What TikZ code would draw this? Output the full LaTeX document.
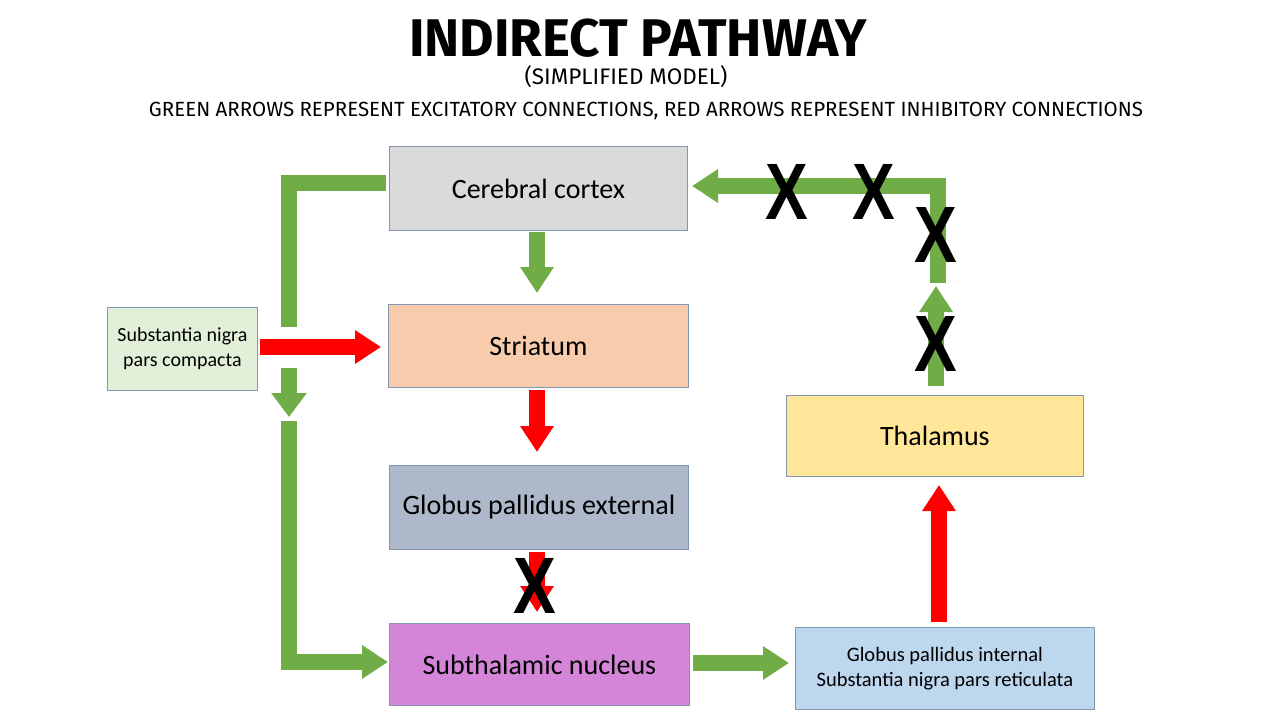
\documentclass[tikz,border=0pt]{standalone}
\usepackage{fontspec}
\setmainfont{Carlito}
\newfontfamily\titlef{Fira Sans}
\newfontfamily\xf{Liberation Sans}
\usetikzlibrary{arrows.meta}
\definecolor{grn}{HTML}{70AD47}
\definecolor{rd}{HTML}{FF0000}
\definecolor{bord}{HTML}{8497B0}
\tikzset{
 box/.style={draw=bord, line width=0.8pt, anchor=north west, inner sep=0pt, align=center, font=\fontsize{28}{32}\selectfont},
 garr/.style={draw=grn, line width=16pt, -{Triangle[width=32pt,length=26pt]}},
 rarr/.style={draw=rd, line width=16pt, -{Triangle[width=32pt,length=26pt]}},
 gline/.style={draw=grn, line width=16pt},
 xmark/.style={font=\xf\bfseries\fontsize{80}{80}\selectfont, xscale=0.8, inner sep=0pt}
}
\begin{document}
\begin{tikzpicture}[x=1pt,y=-1pt]
\useasboundingbox[fill=white] (0,0) rectangle (1280,720);
\node[font=\titlef\bfseries\fontsize{53}{53}\selectfont] (t) at (638,38) {INDIRECT PATHWAY};
\node[font=\titlef\fontsize{22.5}{22}\selectfont] (st) at (626,77) {(SIMPLIFIED MODEL)};
\node[font=\titlef\fontsize{20.5}{20}\selectfont] (lg) at (646,111) {GREEN ARROWS REPRESENT EXCITATORY CONNECTIONS, RED ARROWS REPRESENT INHIBITORY CONNECTIONS};

\node[box, fill={rgb,255:red,218;green,218;blue,218}, minimum width=298pt, minimum height=84pt] (cc) at (389,146) {Cerebral cortex};
\node[box, fill={rgb,255:red,248;green,203;blue,173}, minimum width=300pt, minimum height=83pt] (str) at (388,304) {Striatum};
\node[box, fill={rgb,255:red,173;green,185;blue,202}, minimum width=299pt, minimum height=84pt] (gpe) at (389,465) {Globus pallidus external};
\node[box, fill={rgb,255:red,212;green,133;blue,216}, minimum width=300pt, minimum height=82pt] (stn) at (389,623) {Subthalamic nucleus};
\node[box, fill={rgb,255:red,226;green,240;blue,217}, minimum width=150pt, minimum height=83pt, font=\fontsize{20}{25}\selectfont] (snc) at (107,307) {Substantia nigra\\pars compacta};
\node[box, fill={rgb,255:red,255;green,230;blue,153}, minimum width=297pt, minimum height=81pt] (th) at (786,395) {Thalamus};
\node[box, fill={rgb,255:red,189;green,215;blue,238}, minimum width=299pt, minimum height=82pt, font=\fontsize{20.5}{25}\selectfont] (gpi) at (795,627) {Globus pallidus internal\\Substantia nigra pars reticulata};

\coordinate (a1) at (537,232); \coordinate (a2) at (537,293);
\draw[garr] (a1) -- (a2);
\coordinate (b1) at (537,390); \coordinate (b2) at (537,452);
\draw[rarr] (b1) -- (b2);
\coordinate (c1) at (537,552); \coordinate (c2) at (537,612);
\draw[rarr] (c1) -- (c2);
\coordinate (d1) at (260,347); \coordinate (d2) at (381,347);
\draw[rarr] (d1) -- (d2);
\coordinate (e1) at (386,183); \coordinate (e2) at (289,183); \coordinate (e3) at (289,327);
\draw[gline] (e1) -- (e2) -- (e3);
\coordinate (f1) at (289,368); \coordinate (f2) at (289,417);
\draw[draw=grn, line width=16pt, -{Triangle[width=34pt,length=24pt]}] (f1) -- (f2);
\coordinate (g1) at (289,421); \coordinate (g2) at (289,662); \coordinate (g3) at (388,662);
\draw[garr] (g1) -- (g2) -- (g3);
\coordinate (h1) at (693,663); \coordinate (h2) at (789,663);
\draw[garr] (h1) -- (h2);
\coordinate (i1) at (939,622); \coordinate (i2) at (939,485);
\draw[rarr] (i1) -- (i2);
\coordinate (j1) at (936,386); \coordinate (j2) at (936,286);
\draw[garr] (j1) -- (j2);
\coordinate (k1) at (938,283); \coordinate (k2) at (938,186); \coordinate (k3) at (692,186);
\draw[garr] (k1) -- (k2) -- (k3);

\node[xmark] (x1) at (787,192) {X};
\node[xmark] (x2) at (874,192) {X};
\node[xmark] (x3) at (936,235) {X};
\node[xmark] (x4) at (936,344) {X};
\node[xmark] (x5) at (535,586) {X};
\end{tikzpicture}
\end{document}
